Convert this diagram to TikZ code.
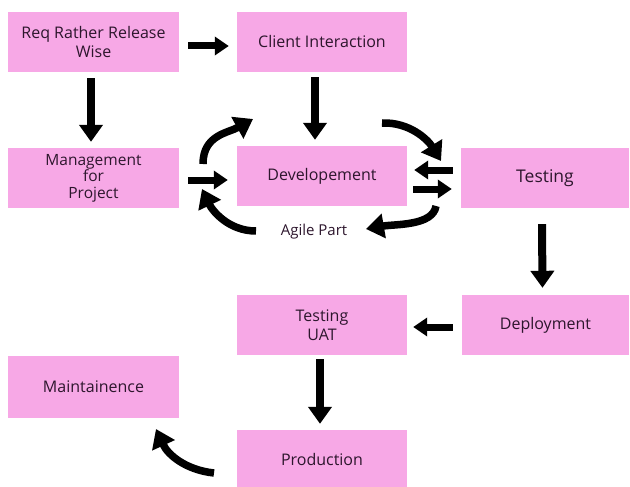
\documentclass[tikz,border=0pt]{standalone}
\usepackage{fontspec}
\setmainfont{Open Sans}
\usetikzlibrary{arrows.meta,calc}
\definecolor{boxpink}{RGB}{247,168,230}
\definecolor{txt}{RGB}{45,22,45}
\begin{document}
\begin{tikzpicture}[x=1pt,y=-1pt,
  box/.style={fill=boxpink, draw=none, minimum width=170pt, minimum height=60pt,
    inner sep=0pt, align=center, text=txt, font=\fontsize{16}{19.5}\selectfont},
  harrow/.style={line width=7pt, -{Triangle[width=18pt,length=14pt]}},
  varrow/.style={line width=8pt, -{Triangle[width=23pt,length=17pt]}},
  carrow/.style={line width=7.5pt, -{Triangle[width=24pt,length=18pt]}}]
\useasboundingbox (0,0) rectangle (630,487);
\fill[white] (0,0) rectangle (630,487);

\node[box, minimum width=171pt] (req) at (93.5,42) {Req Rather Release\\Wise};
\node[box] (client) at (322,42) {Client Interaction};
\node[box, minimum width=171pt, font=\fontsize{15.5}{16.5}\selectfont] (mgmt) at (93.5,178) {Management\\for\\Project};
\node[box] (dev) at (322,176) {Developement};
\node[box, minimum width=168pt, font=\fontsize{17.5}{20}\selectfont] (test) at (545,178) {Testing};
\node[box] (uat) at (322,325) {Testing\\UAT};
\node[box, minimum width=167pt] (deploy) at (545.5,325) {Deployment};
\node[box, minimum width=171pt, minimum height=62pt] (maint) at (93.5,387) {Maintainence};
\node[box, minimum height=58pt] (prod) at (322,459) {Production};
\node[text=txt, font=\fontsize{15}{15}\selectfont] (agile) at (314,232) {Agile Part};

\draw[harrow] ($(req.east)+(9,4)$) -- ($(client.west)+(-8,4)$);
\draw[varrow] ($(req.south)+(-2.5,6)$) -- ($(mgmt.north)+(-2.5,-6)$);
\draw[varrow] ($(client.south)+(-7,5)$) -- ($(dev.north)+(-7,-6)$);
\draw[harrow] ($(mgmt.east)+(9,2)$) -- ($(dev.west)+(-9,4)$);
\draw[harrow] ($(test.west)+(-8,-8)$) -- ($(dev.east)+(7,-6)$);
\draw[harrow] ($(dev.east)+(6,13)$) -- ($(test.west)+(-9,11)$);
\draw[varrow] ($(test.south)+(-3,16)$) -- ($(deploy.north)+(-3,-7)$);
\draw[harrow] ($(deploy.west)+(-9,2)$) -- ($(uat.east)+(6,2)$);
\draw[varrow] ($(uat.south)+(-2,4)$) -- ($(prod.north)+(-2,-6)$);

\coordinate (tl1) at (203,164); \coordinate (tl2) at (253,119);
\draw[carrow] (tl1) .. controls (203,135) and (228,133) .. (tl2);
\coordinate (bl1) at (256,231); \coordinate (bl2) at (202,189);
\draw[carrow] (bl1) .. controls (228,231) and (212,210) .. (bl2);
\coordinate (tr1) at (382,123); \coordinate (tr2) at (441,161);
\draw[carrow] (tr1) .. controls (410,122) and (428,140) .. (tr2);
\coordinate (br1) at (436,206); \coordinate (br2) at (366,229);
\draw[carrow] (br1) .. controls (433,226) and (395,224) .. (br2);
\coordinate (m1) at (214,473); \coordinate (m2) at (156,429);
\draw[carrow] (m1) .. controls (186,470) and (168,455) .. (m2);
\end{tikzpicture}
\end{document}
